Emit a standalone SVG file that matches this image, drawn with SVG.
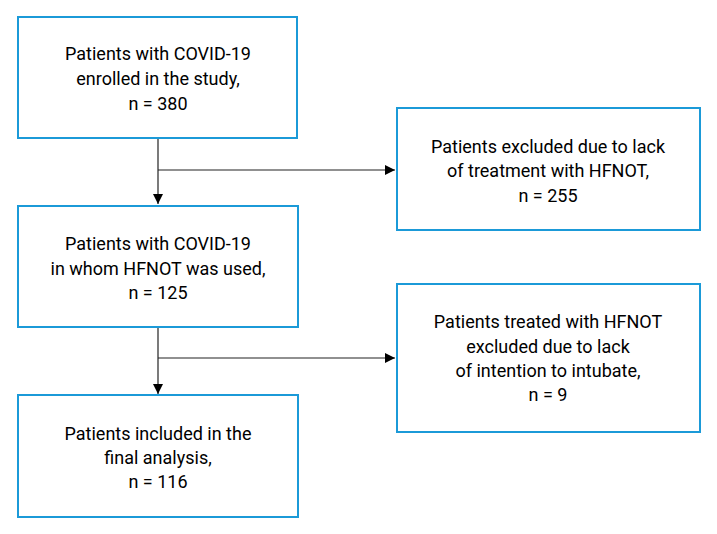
<svg xmlns="http://www.w3.org/2000/svg" width="717" height="534" viewBox="0 0 717 534">
<defs>
<style>
.box{fill:#fff;stroke:#1b9ad8;stroke-width:2}
.t{font-family:Roboto,"Liberation Sans",sans-serif;font-size:18px;fill:#000;text-anchor:middle}
.c{fill:none;stroke:#222;stroke-width:1.2}
</style>
<marker id="ah" viewBox="0 0 10 10" refX="10" refY="5" markerWidth="10" markerHeight="10" markerUnits="userSpaceOnUse" orient="auto">
<path d="M0,0 L10,5 L0,10 Z" fill="#000"/>
</marker>
</defs>
<rect width="717" height="534" fill="#fff"/>
<g id="connectors">
<path class="c" d="M158,138 V204" marker-end="url(#ah)"/>
<path class="c" d="M158,170 H395" marker-end="url(#ah)"/>
<path class="c" d="M158,327 V394" marker-end="url(#ah)"/>
<path class="c" d="M158,358 H395" marker-end="url(#ah)"/>
</g>
<g id="n1">
<rect class="box" x="18" y="17" width="279" height="121"/>
<text class="t" x="158" y="60">Patients with COVID-19</text>
<text class="t" x="158" y="85">enrolled in the study,</text>
<text class="t" x="158" y="110">n = 380</text>
</g>
<g id="n2">
<rect class="box" x="397" y="108" width="303" height="122"/>
<text class="t" x="548" y="153">Patients excluded due to lack</text>
<text class="t" x="548" y="177">of treatment with HFNOT,</text>
<text class="t" x="548" y="202">n = 255</text>
</g>
<g id="n3">
<rect class="box" x="18" y="206" width="280" height="121"/>
<text class="t" x="158" y="250">Patients with COVID-19</text>
<text class="t" x="158" y="275">in whom HFNOT was used,</text>
<text class="t" x="158" y="299">n = 125</text>
</g>
<g id="n4">
<rect class="box" x="397" y="284" width="303" height="148"/>
<text class="t" x="548" y="328">Patients treated with HFNOT</text>
<text class="t" x="548" y="353">excluded due to lack</text>
<text class="t" x="548" y="377">of intention to intubate,</text>
<text class="t" x="548" y="401">n = 9</text>
</g>
<g id="n5">
<rect class="box" x="18" y="395" width="280" height="122"/>
<text class="t" x="158" y="440">Patients included in the</text>
<text class="t" x="158" y="464">final analysis,</text>
<text class="t" x="158" y="488">n = 116</text>
</g>
</svg>
